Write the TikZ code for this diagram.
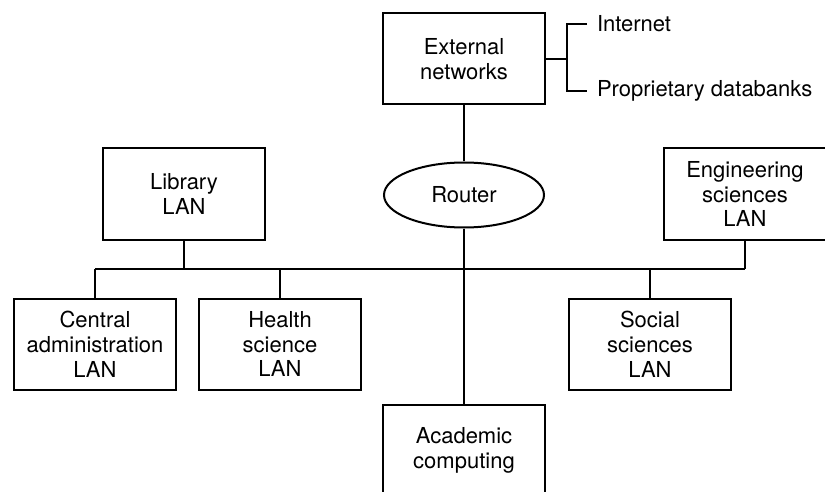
\documentclass[tikz,border=0pt]{standalone}
\usepackage{fontspec}
\setmainfont{TeX Gyre Heros}
\usepackage{tikz}
\usetikzlibrary{positioning, calc, shapes.geometric}

\begin{document}
\begin{tikzpicture}[x=0.5pt, y=-0.5pt, line width=1pt,
  lan/.style={rectangle, draw, align=center, minimum width=81pt,
  minimum height=45.5pt, inner sep=2pt, font=\fontsize{11}{12.4}\selectfont},
  hub/.style={ellipse, draw, minimum width=80pt, minimum height=32.5pt,
  inner sep=0pt, font=\fontsize{11}{12.4}\selectfont},
  tag/.style={anchor=west, inner sep=0pt, font=\fontsize{11}{12.4}\selectfont}]
  \useasboundingbox (0,0) rectangle (825,492);
  \clip (0,0) rectangle (825,492);
  \node[lan] (ext) at (464,59) {External\\networks};
  \node[hub] (router) at (464,195) {Router};
  \node[lan] (lib) at (184,194) {Library\\LAN};
  \node[lan] (eng) at (745,194) {Engineering\\sciences\\LAN};
  \node[lan] (cadm) at (95,344) {Central\\administration\\LAN};
  \node[lan] (health) at (280,344) {Health\\science\\LAN};
  \node[lan] (social) at (650,344) {Social\\sciences\\LAN};
  \node[lan] (acad) at (464,450) {Academic\\computing};
  \node[tag] (inet) at (596,24) {Internet};
  \node[tag] (prop) at (596,91) {Proprietary databanks};
  % bracket to the outside world
  \coordinate (brk) at (567,59);
  \draw (ext.east |- brk) -- (brk);
  \draw (inet.west) ++(-9,0) -| (brk) |- ($(prop.west)+(-9,0)$);
  % backbone
  \coordinate (busL) at (95,269);
  \coordinate (busR) at (745,269);
  \draw (busL) -- (busR);
  \draw (ext) -- (router);
  \draw (router) -- (acad);
  \draw (lib.south) -- (lib.south |- busL);
  \draw (eng.south) -- (eng.south |- busR);
  \draw (cadm.north) -- (cadm.north |- busL);
  \draw (health.north) -- (health.north |- busL);
  \draw (social.north) -- (social.north |- busL);
\end{tikzpicture}
\end{document}
